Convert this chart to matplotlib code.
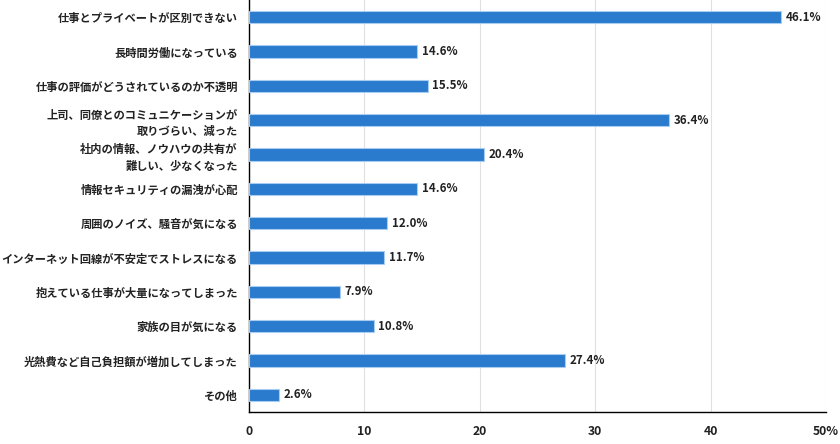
import matplotlib.pyplot as plt

plt.rcParams['font.family'] = ['Noto Sans CJK JP', 'DejaVu Sans']

labels = ['仕事とプライベートが区別できない',
          '長時間労働になっている',
          '仕事の評価がどうされているのか不透明',
          '上司、同僚とのコミュニケーションが\n取りづらい、減った',
          '社内の情報、ノウハウの共有が\n難しい、少なくなった',
          '情報セキュリティの漏洩が心配',
          '周囲のノイズ、騒音が気になる',
          'インターネット回線が不安定でストレスになる',
          '抱えている仕事が大量になってしまった',
          '家族の目が気になる',
          '光熱費など自己負担額が増加してしまった',
          'その他']
values = [46.1, 14.6, 15.5, 36.4, 20.4, 14.6, 12.0, 11.7, 7.9, 10.8, 27.4, 2.6]
xticks = [0, 10, 20, 30, 40, 50]
xticklabels = ['0', '10', '20', '30', '40', '50%']

fig = plt.figure(figsize=(8.4, 4.44), dpi=100)
ax = fig.add_axes([0.2964, 0.072, 0.6869, 0.928])

y = list(range(len(labels)))
ax.barh(y, values, height=0.36, color='#2a7bce', edgecolor='#a9cdf0', linewidth=0.8, zorder=3)
for yi, v in zip(y, values):
    ax.text(v + 0.4, yi, f'{v:.1f}%', va='center', ha='left', fontsize=8.3,
            fontweight='bold', color='#222222')

ax.set_ylim(len(labels) - 0.5, -0.5)
ax.set_xlim(0, 50)
ax.set_yticks(y)
ax.set_yticklabels(labels, fontsize=8.1, fontweight='bold', color='#222222',
                   linespacing=1.35)
ax.set_xticks(xticks)
ax.set_xticklabels(xticklabels, fontsize=8.8, fontweight='bold', color='#222222')
ax.tick_params(axis='both', length=0)
ax.tick_params(axis='y', pad=8)
ax.tick_params(axis='x', pad=9)
ax.grid(axis='x', color='#e0e0e0', linewidth=0.8, zorder=0)
for s in ['top', 'right']:
    ax.spines[s].set_visible(False)
ax.spines['left'].set_linewidth(1.0)
ax.spines['bottom'].set_linewidth(1.0)

fig.savefig('out.png', dpi=100)
